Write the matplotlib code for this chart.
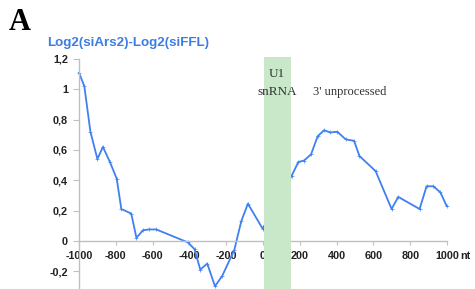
import matplotlib
matplotlib.use("Agg")
import matplotlib.pyplot as plt
from matplotlib.patches import Rectangle

# data (nt position, log2 ratio)
pos = [-1000, -971, -938, -900, -870, -832, -795, -770, -716, -688, -652, -618, -580,
       -409, -372, -341, -303, -261, -221, -156, -118, -82, -2,
       156, 192, 223, 261, 297, 332, 366, 404, 449, 495, 524, 612, 699, 735, 851, 889, 926, 964, 998]
val = [1.11, 1.02, 0.72, 0.54, 0.62, 0.52, 0.41, 0.21, 0.18, 0.02, 0.07, 0.075, 0.075,
       -0.01, -0.055, -0.19, -0.15, -0.30, -0.23, -0.06, 0.13, 0.245, 0.08,
       0.43, 0.52, 0.53, 0.57, 0.69, 0.73, 0.715, 0.72, 0.67, 0.66, 0.56, 0.46, 0.21, 0.29, 0.21, 0.36, 0.36, 0.32, 0.23]
xticks = [-1000, -800, -600, -400, -200, 0, 200, 400, 600, 800, 1000]
yticks = [-0.2, 0, 0.2, 0.4, 0.6, 0.8, 1.0, 1.2]
ytick_labels = ["-0,2", "0", "0,2", "0,4", "0,6", "0,8", "1", "1,2"]
band = (5, 150)

fig = plt.figure(figsize=(4.75, 2.89), dpi=100)
W, H = 475, 289
ax = fig.add_axes([79 / W, 0, 368 / W, (289 - 59) / H])
ax.set_xlim(-1000, 1000)
ax.set_ylim(-0.318, 1.2)

line_c = "#3f80f2"
ax.plot(pos, val, color=line_c, lw=1.3, marker="+", ms=2.5, mew=0.5, zorder=2, clip_on=False)

for s in ["top", "right"]:
    ax.spines[s].set_visible(False)
ax.spines["bottom"].set_position(("data", 0))
for s in ["left", "bottom"]:
    ax.spines[s].set_color("#c0c0c0")
    ax.spines[s].set_linewidth(1.0)

fs = 7.8
ax.set_xticks(xticks)
ax.set_xticklabels([str(t) for t in xticks])
ax.set_yticks(yticks)
ax.set_yticklabels(ytick_labels)
ax.tick_params(axis="x", direction="out", length=3, color="#c0c0c0", pad=4)
ax.tick_params(axis="y", direction="out", length=4, color="#c0c0c0", pad=4)
for lab in ax.get_xticklabels() + ax.get_yticklabels():
    lab.set_fontfamily("Liberation Sans")
    lab.set_fontweight("bold")
    lab.set_fontsize(fs)
    lab.set_color("#222222")

rect = Rectangle((band[0], -0.318), band[1] - band[0], 1.215 + 0.318,
                 facecolor="#c9e7c9", edgecolor="none", zorder=3, clip_on=False)
ax.add_patch(rect)

# 'nt' unit placed just right of the last tick label
fig.canvas.draw()
tl = ax.get_xticklabels()[-1]
bb = tl.get_window_extent()
inv = ax.transData.inverted()
x0, y0 = inv.transform((bb.x1 + 1.5, (bb.y0 + bb.y1) / 2))
ax.text(x0, y0, "nt", ha="left", va="center", fontfamily="Liberation Sans",
        fontweight="bold", fontsize=fs, color="#222222", clip_on=False)

serif = "Liberation Serif"
ax.text(77, 1.098, "U1", ha="center", va="center", fontfamily=serif, fontsize=9.5, color="#333333", zorder=4)
ax.text(77, 0.98, "snRNA", ha="center", va="center", fontfamily=serif, fontsize=9.5, color="#333333", zorder=4)
ax.text(270, 0.98, "3' unprocessed", ha="left", va="center", fontfamily=serif, fontsize=9, color="#333333", zorder=4)

fig.text(47 / W, 1 - 43 / H, "Log2(siArs2)-Log2(siFFL)", ha="left", va="center",
         fontfamily="Liberation Sans", fontweight="bold", fontsize=9.6, color="#3b7de0")
fig.text(9 / W, 1 - 22 / H, "A", ha="left", va="center", fontfamily=serif,
         fontweight="bold", fontsize=22, color="black")

fig.savefig("out.png", dpi=100)
